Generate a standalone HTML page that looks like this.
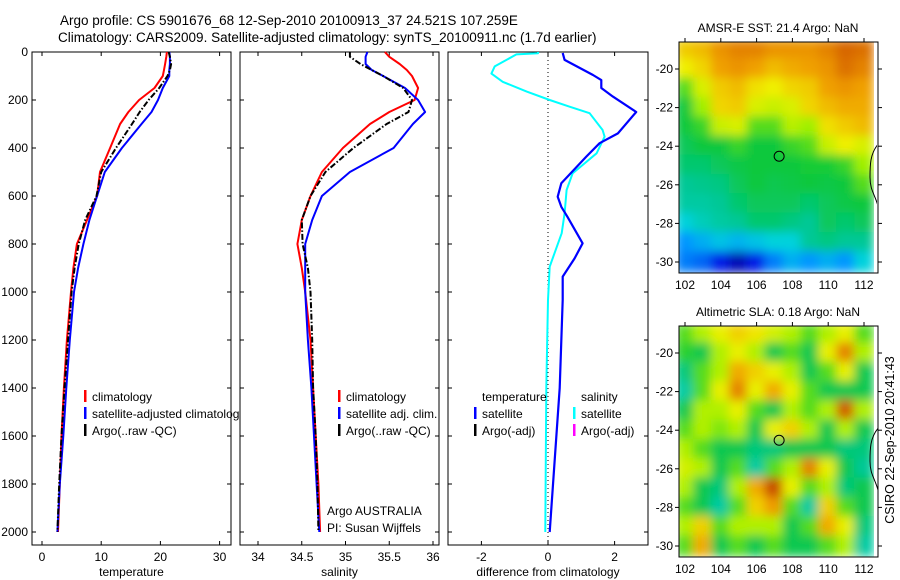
<!DOCTYPE html>
<html><head><meta charset="utf-8"><style>
html,body{margin:0;padding:0;background:#fff;}
svg{display:block;font-family:"Liberation Sans",sans-serif;}
</style></head><body>
<svg id="fig" width="900" height="580" viewBox="0 0 900 580" xmlns="http://www.w3.org/2000/svg">
<defs>
<filter id="blur" x="0" y="0" width="1" height="1"><feGaussianBlur stdDeviation="5" edgeMode="duplicate"/></filter>
<clipPath id="clipM1"><rect x="679" y="42" width="198" height="231"/></clipPath>
<clipPath id="clipM2"><rect x="679" y="326" width="199" height="231"/></clipPath>
</defs>
<text x="60" y="25" font-size="13.5">Argo profile: CS 5901676_68 12-Sep-2010 20100913_37 24.521S 107.259E</text>
<text x="58" y="42" font-size="13.5">Climatology: CARS2009. Satellite-adjusted climatology: synTS_20100911.nc (1.7d earlier)</text>
<g id="g"></g>
<text transform="translate(894,440) rotate(-90)" text-anchor="middle" font-size="12.5">CSIRO 22-Sep-2010 20:41:43</text>
</svg>
<script>
// ---- profile data ----
const depths = [0,20,50,75,100,150,200,250,300,400,500,600,700,800,900,1000,1200,1400,1600,1800,2000];
const tempClim = [21.1,21,20.8,20.6,20.4,19,16.4,14.6,13.2,11.5,9.8,9.3,7.6,5.9,5.3,4.9,4.2,3.7,3.3,3.0,2.7];
const tempSat  = [21.5,21.6,21.6,21.5,21.5,20.4,19.6,18.5,16.8,13.5,10.6,9.3,8.0,7.0,6.1,5.4,4.7,4.1,3.6,3.0,2.6];
const tempArgo = [21.4,21.6,21.8,21.6,21.2,19.8,18,16.5,15.2,12.5,10,9.2,7.3,6.2,5.5,5,4.4,3.8,3.3,2.9,2.6];
const salClim = [35.45,35.5,35.62,35.7,35.76,35.83,35.79,35.5,35.28,34.97,34.73,34.6,34.5,34.45,34.5,34.54,34.6,34.63,34.66,34.69,34.71];
const salSat  = [35.25,35.23,35.23,35.3,35.43,35.68,35.83,35.91,35.77,35.55,35.05,34.73,34.62,34.54,34.54,34.54,34.57,34.61,34.64,34.67,34.7];
const salArgo = [35.05,35.05,35.17,35.3,35.43,35.66,35.76,35.72,35.47,35.09,34.77,34.6,34.5,34.51,34.57,34.6,34.62,34.63,34.66,34.68,34.69];
const dTempDepths = [4,33,96,117,150,186,250,339,380,436,547,603,645,686,797,860,936,1033,1400,2000];
const dTempSat = [0.44,0.5,1.35,1.6,1.6,1.95,2.65,2.1,1.55,1.15,0.4,0.29,0.4,0.58,1.04,0.8,0.44,0.44,0.35,0.05];
const dSalDepths = [0,5,10,60,90,124,165,200,228,255,325,353,422,506,575,672,755,894,1033,1400,2000];
const dSalSat = [-0.3,-0.3,-0.95,-1.6,-1.7,-1.36,-0.64,0.05,0.65,1.25,1.64,1.7,1.46,0.74,0.56,0.5,0.41,0.05,0,-0.05,-0.08];
const depthTicks = [0,200,400,600,800,1000,1200,1400,1600,1800,2000];
const tempTicks = [0,10,20,30];
const salTicks = [34,34.5,35,35.5,36];
const diffTicks = [-2,0,2];
// ---- map data (rows lat -19..-30, cols lon 102..112) ----
const sstGrid = [
[0.72,0.75,0.82,0.85,0.85,0.82,0.82,0.82,0.85,0.9,0.88],
[0.65,0.7,0.8,0.82,0.8,0.75,0.78,0.8,0.82,0.88,0.85],
[0.5,0.62,0.72,0.75,0.68,0.65,0.7,0.72,0.8,0.82,0.8],
[0.45,0.55,0.7,0.72,0.62,0.6,0.62,0.7,0.75,0.78,0.78],
[0.45,0.48,0.6,0.62,0.5,0.5,0.58,0.55,0.68,0.72,0.75],
[0.42,0.45,0.45,0.48,0.45,0.45,0.48,0.5,0.6,0.65,0.62],
[0.4,0.4,0.42,0.44,0.45,0.45,0.45,0.46,0.46,0.48,0.55],
[0.36,0.37,0.38,0.42,0.45,0.43,0.44,0.45,0.44,0.45,0.5],
[0.35,0.35,0.36,0.4,0.42,0.42,0.42,0.4,0.42,0.44,0.45],
[0.3,0.33,0.35,0.36,0.4,0.4,0.38,0.36,0.42,0.4,0.42],
[0.22,0.25,0.28,0.26,0.28,0.3,0.3,0.36,0.38,0.36,0.36],
[0.2,0.18,0.12,0.05,0.12,0.2,0.25,0.22,0.25,0.22,0.3]];
const slaGrid = [
[.5,.55,.6,.65,.62,.58,.55,.5,.55,.6,.5],
[.48,.45,.55,.6,.55,.45,.5,.45,.6,.75,.55],
[.42,.5,.55,.7,.65,.6,.55,.45,.5,.6,.45],
[.38,.5,.6,.75,.6,.7,.6,.5,.45,.45,.45],
[.45,.55,.55,.6,.5,.45,.55,.5,.55,.8,.55],
[.5,.55,.52,.55,.45,.6,.65,.55,.45,.55,.45],
[.55,.5,.45,.45,.42,.42,.45,.45,.45,.42,.42],
[.58,.55,.45,.5,.38,.5,.55,.75,.6,.45,.4],
[.55,.45,.42,.55,.7,.82,.6,.5,.55,.42,.45],
[.5,.45,.35,.5,.65,.72,.5,.35,.65,.5,.45],
[.55,.65,.5,.55,.55,.55,.45,.5,.7,.6,.42],
[.5,.7,.45,.5,.45,.5,.45,.45,.5,.55,.3]];
const lonTicks = [102,104,106,108,110,112];
const latTicks = [-20,-22,-24,-26,-28,-30];
const argoLon = 107.259, argoLat = -24.521;

const NS='http://www.w3.org/2000/svg';
const G=document.getElementById('g');
function mk(tag,attrs,parent){const e=document.createElementNS(NS,tag);for(const k in attrs)e.setAttribute(k,attrs[k]);(parent||G).appendChild(e);return e;}
function txt(x,y,s,size,anchor,parent){const t=mk('text',{x:x,y:y,'font-size':size,'text-anchor':anchor||'start'},parent);t.textContent=s;return t;}
const yD = d => 52 + d*0.24;
const TOP=52, BOT=545;

function panel(name,x0,x1,xs,ticks,tickFmt,xlabel,showY){
  const g=mk('g',{});
  
  
  mk('rect',{x:x0,y:TOP,width:x1-x0,height:BOT-TOP,fill:'#fff',stroke:'#000','stroke-width':1},g);
  ticks.forEach(v=>{const x=xs(v);
    mk('line',{x1:x,x2:x,y1:BOT,y2:BOT-4,stroke:'#000'},g);
    mk('line',{x1:x,x2:x,y1:TOP,y2:TOP+4,stroke:'#000'},g);
    const t=txt(x,561,tickFmt(v),12,'middle',g);
    
    
  });
  depthTicks.forEach(d=>{const y=yD(d);
    mk('line',{x1:x0,x2:x0+4,y1:y,y2:y,stroke:'#000'},g);
    mk('line',{x1:x1,x2:x1-4,y1:y,y2:y,stroke:'#000'},g);
    if(showY){const t=txt(x0-4,y+4,String(d),12,'end',g);
      
      }
  });
  const xl=txt((x0+x1)/2,576,xlabel,12,'middle',g);
  
  
  return g;
}
function line(g,xs,vals,ds,color,w,dash,name){
  const pts=vals.map((v,i)=>xs(v).toFixed(1)+','+yD(ds[i]).toFixed(1)).join(' ');
  const p=mk('polyline',{points:pts,fill:'none',stroke:color,'stroke-width':w,'stroke-linejoin':'round'},g);
  if(dash)p.setAttribute('stroke-dasharray',dash);
  
  
}
function legend(g,x,y,color,label){
  if(color)mk('rect',{x:x,y:y-7,width:2.5,height:12,fill:color},g);
  const t=txt(x+8,y+4,label,12,'start',g);
  
  
}

// Panel 1 temperature
const xT = v => 42 + v*5.92;
const p1=panel('temperature-panel',32,231,xT,tempTicks,String,'temperature',true);
line(p1,xT,tempClim,depths,'#f00',2,null,'temperature-climatology-line');
line(p1,xT,tempSat,depths,'#00f',2,null,'temperature-satellite-line');
line(p1,xT,tempArgo,depths,'#000',2,'6,2,1.5,2','temperature-argo-line');
legend(p1,84,397,'#f00','climatology');
legend(p1,84,414,'#00f','satellite-adjusted climatology');
legend(p1,84,431,'#000','Argo(..raw -QC)');

// Panel 2 salinity
const xS = v => 258 + (v-34)*87.5;
const p2=panel('salinity-panel',240,439,xS,salTicks,String,'salinity',false);
line(p2,xS,salClim,depths,'#f00',2,null,'salinity-climatology-line');
line(p2,xS,salSat,depths,'#00f',2,null,'salinity-satellite-line');
line(p2,xS,salArgo,depths,'#000',2,'6,2,1.5,2','salinity-argo-line');
legend(p2,338,397,'#f00','climatology');
legend(p2,338,414,'#00f','satellite adj. clim.');
legend(p2,338,431,'#000','Argo(..raw -QC)');
let a=txt(327,515,'Argo AUSTRALIA',12,'start',p2);

a=txt(327,532,'PI: Susan Wijffels',12,'start',p2);


// Panel 3 differences
const xDf = v => 548 + v*33.3;
const p3=panel('difference-panel',448,648,xDf,diffTicks,String,'difference from climatology',false);
mk('line',{x1:xDf(0),x2:xDf(0),y1:TOP,y2:BOT,stroke:'#000','stroke-dasharray':'1,3'},p3);
line(p3,xDf,dSalSat,dSalDepths,'#0ff',2,null,'salinity-difference-line');
line(p3,xDf,dTempSat,dTempDepths,'#00f',2.2,null,'temperature-difference-line');
legend(p3,474,397,null,'temperature');
legend(p3,474,414,'#00f','satellite');
legend(p3,474,431,'#000','Argo(-adj)');
legend(p3,573,397,null,'salinity');
legend(p3,573,414,'#0ff','satellite');
legend(p3,573,431,'#f0f','Argo(-adj)');

// colormap
const stops=[[0,[0,0,140]],[0.12,[0,30,230]],[0.22,[0,150,255]],[0.3,[0,210,220]],[0.36,[0,200,150]],[0.45,[10,200,60]],[0.55,[160,240,0]],[0.65,[240,240,0]],[0.8,[240,160,0]],[0.92,[210,90,0]],[1,[180,40,0]]];
function cmap(v){v=Math.max(0,Math.min(1,v));for(let i=1;i<stops.length;i++){if(v<=stops[i][0]){const a=stops[i-1],b=stops[i],t=(v-a[0])/(b[0]-a[0]);return 'rgb('+a[1].map((c,k)=>Math.round(c+(b[1][k]-c)*t)).join(',')+')';}}return 'rgb(180,40,0)';}
const sstScale = v => v;
const slaScale = v => Math.max(0.35, 0.5 + (v-0.5)*1.4);

function map(name,top,bottom,grid,title,scale,clipId){
  const x0=679,x1=878;
  const lx = v => 685 + (v-102)*17.9;
  const ly = v => (top+27) + (-20 - v)*((bottom-top-38)/10);
  const g=mk('g',{});
  
  
  const cg=mk('g',{'clip-path':'url(#'+clipId+')'},g);
  const fg=mk('g',{filter:'url(#blur)'},cg);
  grid.forEach((row,r)=>row.forEach((v,c)=>{
    const lon=102+c, lat=-19-r;
    const cell=mk('rect',{x:lx(lon-0.5)-1,y:ly(lat+0.5)-1,width:lx(lon+0.5)-lx(lon-0.5)+2,height:ly(lat-0.5)-ly(lat+0.5)+2,fill:cmap(scale(v))},fg);
    
    
  }));
  mk('path',{d:'M'+(x1)+','+(ly(-23.9))+' C'+(x1-8)+','+(ly(-24.4))+' '+(x1-8)+','+(ly(-25))+' '+(x1-8)+','+(ly(-25.6))+' C'+(x1-8)+','+(ly(-26.3))+' '+(x1-3)+','+(ly(-26.5))+' '+(x1)+','+(ly(-27.1)),fill:'none',stroke:'#000','stroke-width':1},cg);
  const c=mk('circle',{cx:lx(argoLon),cy:ly(argoLat),r:5,fill:'none',stroke:'#000','stroke-width':1},g);
  
  
  mk('rect',{x:x0,y:top,width:x1-x0,height:bottom-top,fill:'none',stroke:'#000'},g);
  lonTicks.forEach(v=>{const x=lx(v);
    mk('line',{x1:x,x2:x,y1:top,y2:top-4,stroke:'#000'},g);
    const t=txt(x,bottom+16,String(v),12,'middle',g);
    
    });
  latTicks.forEach(v=>{const y=ly(v);
    mk('line',{x1:x0,x2:x0-4,y1:y,y2:y,stroke:'#000'},g);
    mk('line',{x1:x1,x2:x1+4,y1:y,y2:y,stroke:'#000'},g);
    const t=txt(x0-6,y+4,String(v),12,'end',g);
    
    });
  const tt=txt(778,top-10,title,12,'middle',g);
  
  
}
map('sst-map',42,273,sstGrid,'AMSR-E SST: 21.4  Argo: NaN',sstScale,'clipM1');
map('sla-map',326,557,slaGrid,'Altimetric SLA: 0.18  Argo: NaN',slaScale,'clipM2');
</script>
</body></html>
